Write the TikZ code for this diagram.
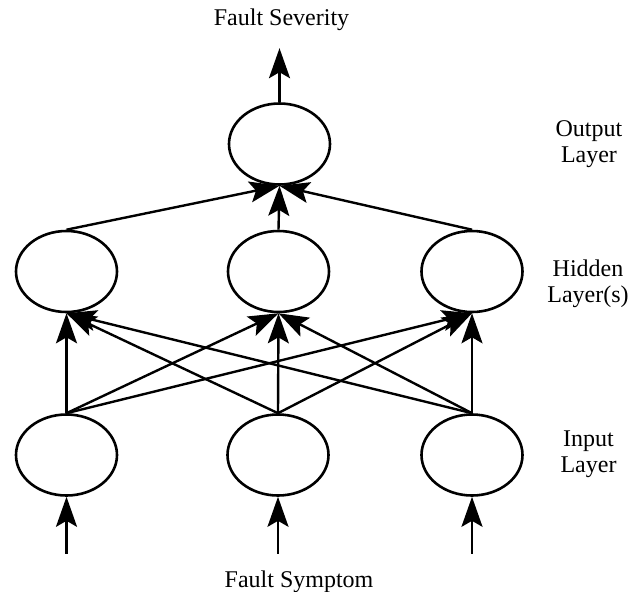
\documentclass[tikz,border=0pt]{standalone}
\usepackage{fontspec}
\setmainfont{Liberation Serif}
\usetikzlibrary{shapes.geometric,arrows.meta}
\begin{document}
\begin{tikzpicture}[x=1pt,y=-1pt,
  neuron/.style={ellipse, draw, line width=2.6pt, minimum width=101pt, minimum height=81pt, inner sep=0pt},
  conn/.style={line width=2.4pt, -{Stealth[length=30pt,width=21pt,inset=6pt]}},
  lbl/.style={font={\fontsize{24}{26}\selectfont}, inner sep=0pt, align=center}]
\useasboundingbox (0,0) rectangle (641,592);
% nodes
\node[neuron] (o)  at (279.5,144) {};
\node[neuron] (h1) at (66.5,271.5) {};
\node[neuron] (h2) at (278.5,271.5) {};
\node[neuron] (h3) at (472,271.5) {};
\node[neuron] (i1) at (66.5,455) {};
\node[neuron] (i2) at (278,455) {};
\node[neuron] (i3) at (472,455) {};
% labels
\node[lbl, anchor=base] (fsev) at (281.5,25) {Fault Severity};
\node[lbl, anchor=base] (fsym) at (299,587) {Fault Symptom};
\node[lbl] (lo) at (589,144.4) {Output\\Layer};
\node[lbl] (lh) at (588,283.8) {Hidden\\Layer(s)};
\node[lbl] (li) at (588.5,454.6) {Input\\Layer};
% free ends
\path (o.north) ++(0,-54) coordinate (top);
\path (i1.south) ++(0,57) coordinate (s1);
\path (i2.south) ++(0,57) coordinate (s2);
\path (i3.south) ++(0,57) coordinate (s3);
% connectors
\draw[conn] (o.north) -- (top);
\foreach \h in {h1,h2,h3} \draw[conn] (\h.north) -- (o.south);
\foreach \i in {i1,i2,i3} \foreach \h in {h1,h2,h3} \draw[conn] (\i.north) -- (\h.south);
\draw[conn] (s1) -- (i1.south);
\draw[conn] (s2) -- (i2.south);
\draw[conn] (s3) -- (i3.south);
\end{tikzpicture}
\end{document}
